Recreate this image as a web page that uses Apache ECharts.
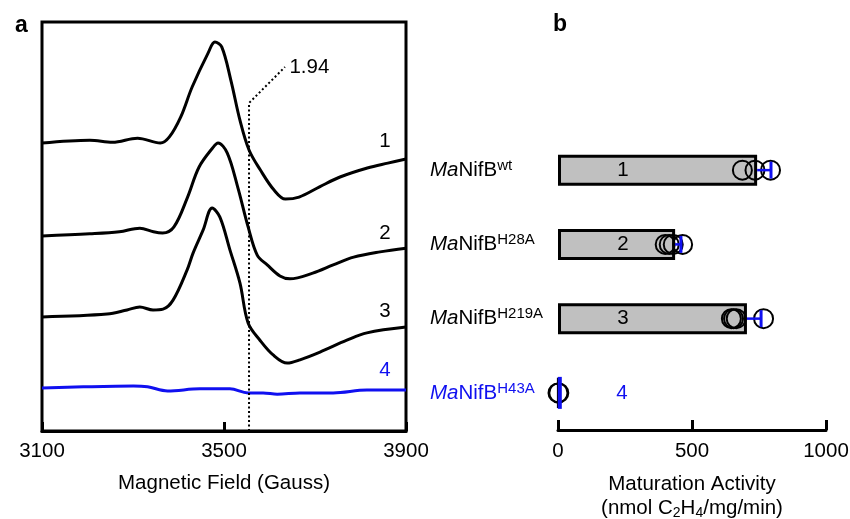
<!DOCTYPE html>
<html>
<head>
<meta charset="utf-8">
<script src="https://cdn.jsdelivr.net/npm/echarts@6/dist/echarts.min.js"></script>
<style>
  html, body { margin: 0; padding: 0; background: #fff; }
  #chart { width: 850px; height: 519px; }
</style>
</head>
<body>
<div id="chart"></div>
<script>
// 面板 a: EPR 谱线 (磁场, 任意强度单位 0-100)
const field1 = [3100, 3205, 3255, 3310, 3360, 3380, 3405, 3430, 3465, 3480, 3495, 3515, 3535, 3555, 3580, 3610, 3635, 3665, 3710, 3755, 3815, 3860, 3900];
const spec1 = [70.4, 71.1, 70.6, 71.6, 70.4, 71.9, 76.8, 84.1, 92.4, 95.1, 93.9, 85.8, 76.0, 68.7, 63.8, 58.9, 56.7, 57.2, 59.7, 62.1, 64.3, 65.5, 66.5];
const field2 = [3100, 3205, 3270, 3315, 3345, 3365, 3390, 3420, 3445, 3475, 3487, 3507, 3530, 3553, 3573, 3595, 3623, 3645, 3695, 3740, 3785, 3843, 3900];
const spec2 = [47.7, 48.2, 48.7, 49.6, 48.7, 48.4, 49.9, 57.2, 64.5, 69.2, 70.4, 68.0, 59.7, 49.9, 43.0, 40.6, 37.9, 37.2, 38.6, 40.6, 42.5, 43.8, 44.7];
const field3 = [3100, 3243, 3287, 3315, 3344, 3366, 3388, 3419, 3432, 3454, 3474, 3491, 3513, 3535, 3553, 3579, 3608, 3639, 3667, 3711, 3770, 3814, 3900];
const spec3 = [27.9, 28.6, 29.6, 30.3, 29.6, 29.8, 32.0, 39.4, 43.5, 49.1, 54.5, 52.3, 44.3, 36.2, 26.4, 22.2, 18.6, 16.6, 17.4, 19.3, 22.2, 24.0, 25.4];
const field4 = [3100, 3191, 3301, 3332, 3376, 3447, 3513, 3553, 3586, 3617, 3667, 3740, 3814, 3900];
const spec4 = [10.5, 10.8, 11.0, 10.8, 9.8, 10.3, 10.3, 9.3, 9.3, 9.0, 9.3, 9.3, 10.0, 10.0];
// g = 1.94 标记线
const gField = [3555, 3555, 3634];
const gLevel = [0, 80.2, 89.0];
// 谱线编号位置
const specLabels = ['1', '2', '3', '4'];
const specLabelPos = [[3854, 70.9], [3854, 48.4], [3854, 29.3], [3854, 14.9]];

// 面板 b: 成熟活性
const variants = ['wt', 'H28A', 'H219A', 'H43A'];
const activity = [743, 437, 705, 3];
const activitySD = [48, 18, 49, 0];
const replicates = [
    [688, 735, 793],
    [400, 415, 430, 465],
    [647, 655, 665, 767],
    [0, 3]
];

const FONT = 'Liberation Sans, Arial, Helvetica, sans-serif';
const FS = 20.5;
const BLUE = '#1010f0';

function zip(xs, ys) {
    return xs.map(function(x, i) { return [x, ys[i]]; });
}

// 散点数据 [值, 类别]
let replicateData = [];
replicates.forEach(function(arr, i) {
    arr.forEach(function(v) {
        replicateData.push([v, variants[i]]);
    });
});

const specLineStyle = { color: '#000', width: 3 };
const plainNum = function(v) { return String(v); };

const option = {
    animation: false,
    backgroundColor: '#fff',
    textStyle: { fontFamily: FONT },
    title: [
        { text: 'a', left: 10, top: 9, textStyle: { fontSize: 23, fontWeight: 'bold', color: '#000', fontFamily: FONT } },
        { text: 'b', left: 548, top: 8, textStyle: { fontSize: 23, fontWeight: 'bold', color: '#000', fontFamily: FONT } }
    ],
    grid: [
        { left: 42, right: 444, top: 22, bottom: 88, show: true, borderColor: '#000', borderWidth: 3, outerBoundsMode: 'none' },
        { left: 558, right: 24, top: 133, bottom: 89, outerBoundsMode: 'none' }
    ],
    xAxis: [
        {
            gridIndex: 0, type: 'value', min: 3100, max: 3900, interval: 400,
            axisLine: { show: true, lineStyle: { color: '#000', width: 3 } },
            axisTick: { show: true, inside: true, length: 9, lineStyle: { color: '#000', width: 3 } },
            splitLine: { show: false },
            axisLabel: { color: '#000', fontSize: FS, margin: 10, showMinLabel: true, showMaxLabel: true, fontFamily: FONT, formatter: plainNum },
            name: 'Magnetic Field (Gauss)', nameLocation: 'middle', nameGap: 42,
            nameTextStyle: { color: '#000', fontSize: FS, fontFamily: FONT }
        },
        {
            gridIndex: 1, type: 'value', min: 0, max: 1000, interval: 500,
            axisLine: { show: true, lineStyle: { color: '#000', width: 3 } },
            axisTick: { show: true, inside: true, length: 10, lineStyle: { color: '#000', width: 3 } },
            splitLine: { show: false },
            axisLabel: { color: '#000', fontSize: FS, margin: 11, showMinLabel: true, showMaxLabel: true, fontFamily: FONT, formatter: plainNum },
            name: 'Maturation Activity\n(nmol C{sub|2}H{sub|4}/mg/min)', nameLocation: 'middle', nameGap: 42,
            nameTextStyle: {
                color: '#000', fontSize: FS, lineHeight: 24, align: 'center', fontFamily: FONT,
                rich: { sub: { fontSize: 14, verticalAlign: 'bottom', color: '#000', fontFamily: FONT, lineHeight: 24, padding: [7, 0, 0, 0] } }
            }
        }
    ],
    yAxis: [
        { gridIndex: 0, type: 'value', min: 0, max: 100, show: false },
        {
            gridIndex: 1, type: 'category', data: variants, inverse: true,
            axisLine: { show: false }, axisTick: { show: false }, splitLine: { show: false },
            axisLabel: {
                align: 'left', margin: 128,
                formatter: function(v, idx) {
                    const s = idx === 3 ? 'B' : '';
                    return '{i' + s + '|Ma}{n' + s + '|NifB}{s' + s + '|' + v + '}';
                },
                rich: {
                    i: { fontSize: FS, fontStyle: 'italic', color: '#000', fontFamily: FONT, lineHeight: 24 },
                    n: { fontSize: FS, color: '#000', fontFamily: FONT, lineHeight: 24 },
                    s: { fontSize: 15, color: '#000', fontFamily: FONT, verticalAlign: 'top', lineHeight: 15, padding: [0, 0, 10, 0] },
                    iB: { fontSize: FS, fontStyle: 'italic', color: BLUE, fontFamily: FONT, lineHeight: 24 },
                    nB: { fontSize: FS, color: BLUE, fontFamily: FONT, lineHeight: 24 },
                    sB: { fontSize: 15, color: BLUE, fontFamily: FONT, verticalAlign: 'top', lineHeight: 15, padding: [0, 0, 10, 0] }
                }
            }
        }
    ],
    series: [
        { type: 'line', xAxisIndex: 0, yAxisIndex: 0, data: zip(field1, spec1), smooth: 0.35, showSymbol: false, lineStyle: specLineStyle },
        { type: 'line', xAxisIndex: 0, yAxisIndex: 0, data: zip(field2, spec2), smooth: 0.35, showSymbol: false, lineStyle: specLineStyle },
        { type: 'line', xAxisIndex: 0, yAxisIndex: 0, data: zip(field3, spec3), smooth: 0.35, showSymbol: false, lineStyle: specLineStyle },
        { type: 'line', xAxisIndex: 0, yAxisIndex: 0, data: zip(field4, spec4), smooth: 0.35, showSymbol: false, lineStyle: { color: BLUE, width: 3 } },
        {
            type: 'line', xAxisIndex: 0, yAxisIndex: 0, data: zip(gField, gLevel), showSymbol: false,
            lineStyle: { color: '#000', width: 2, type: [2, 2.5] }
        },
        // 面板 a 文本标签
        {
            type: 'scatter', xAxisIndex: 0, yAxisIndex: 0, symbolSize: 1, itemStyle: { color: 'rgba(0,0,0,0)', opacity: 1 },
            data: specLabels.map(function(t, i) {
                return {
                    value: specLabelPos[i],
                    label: { show: true, formatter: t, position: 'inside', fontSize: FS, color: i === 3 ? BLUE : '#000', fontFamily: FONT }
                };
            }).concat([{
                value: [gField[2], gLevel[2]],
                label: { show: true, formatter: '1.94', position: 'right', distance: 4, fontSize: FS, color: '#000', fontFamily: FONT }
            }])
        },
        // 面板 b 柱状图
        {
            type: 'bar', xAxisIndex: 1, yAxisIndex: 1, barWidth: 31,
            data: activity.map(function(v, i) {
                return i === 3 ? { value: v, label: { color: BLUE } } : v;
            }),
            itemStyle: { color: '#c0c0c0', borderColor: '#000', borderWidth: 3 },
            label: {
                show: true, position: [65, '50%'], align: 'center', verticalAlign: 'middle', fontSize: FS, fontFamily: FONT,
                formatter: function(p) { return String(p.dataIndex + 1); },
                color: '#000'
            },
            z: 2
        },
        {
            type: 'scatter', xAxisIndex: 1, yAxisIndex: 1, data: replicateData, symbol: 'circle', symbolSize: 19,
            itemStyle: { color: 'rgba(255,255,255,0)', borderColor: '#000', borderWidth: 2, opacity: 1 },
            z: 3
        },
        // 误差线
        {
            type: 'custom', xAxisIndex: 1, yAxisIndex: 1, z: 4,
            data: activity.map(function(v, i) { return [v, i, v + activitySD[i]]; }),
            renderItem: function(params, api) {
                const start = api.coord([api.value(0), api.value(1)]);
                const end = api.coord([api.value(2), api.value(1)]);
                const capH = params.dataIndex === 3 ? 32 : 17;
                return {
                    type: 'group',
                    children: [
                        { type: 'line', shape: { x1: start[0], y1: start[1], x2: end[0], y2: end[1] }, style: { stroke: BLUE, lineWidth: 2.5 } },
                        { type: 'line', shape: { x1: end[0] + 1, y1: end[1] - capH / 2, x2: end[0] + 1, y2: end[1] + capH / 2 }, style: { stroke: BLUE, lineWidth: params.dataIndex === 3 ? 4 : 3 } }
                    ]
                };
            }
        }
    ]
};

const myChart = echarts.init(document.getElementById('chart'), null, { renderer: 'canvas' });
myChart.setOption(option);
</script>
</body>
</html>
